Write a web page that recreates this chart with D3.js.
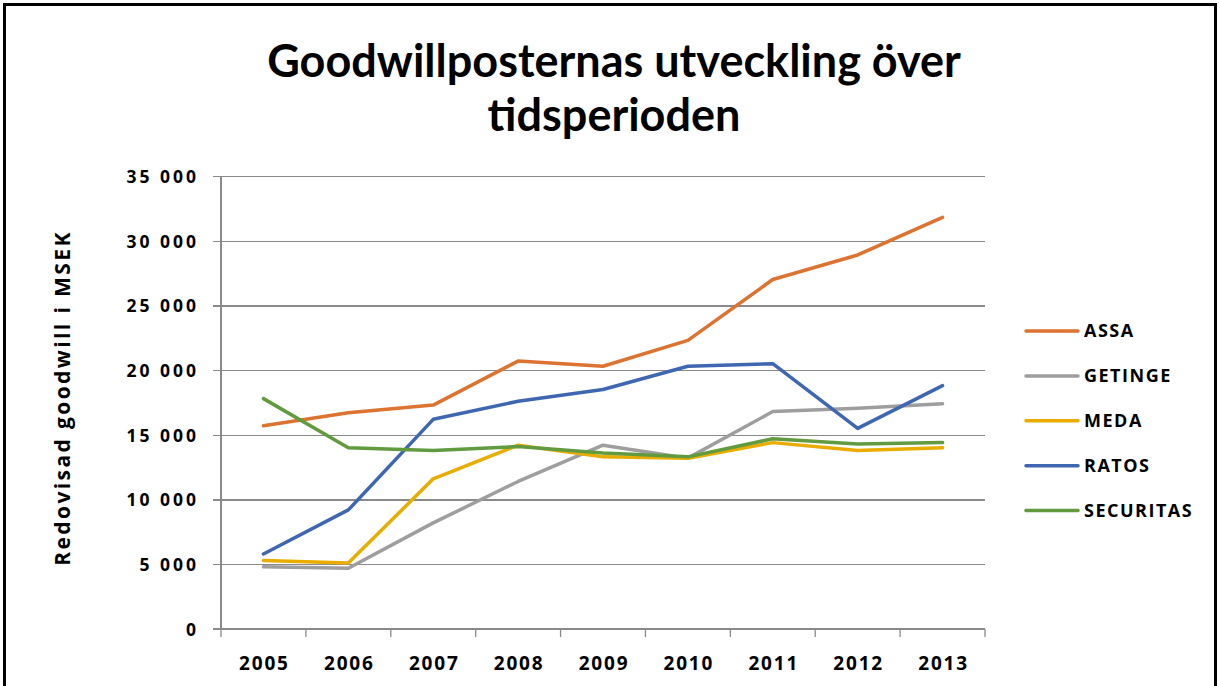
<!doctype html>
<html>
<head>
  <meta charset="utf-8">
  <script src="https://d3js.org/d3.v7.min.js"></script>
  <style>
    body { margin: 0; background: #fff; }
    svg { display: block; }
    .title { font-family: Lato, sans-serif; font-weight: 700; font-size: 45px; fill: #000; }
    .tick-label { font-family: "Open Sans", sans-serif; font-weight: 700; fill: #000; }
    .axis-title { font-family: "Open Sans", sans-serif; font-weight: 700; font-size: 21px; letter-spacing: 2.4px; fill: #000; }
    .legend-label { font-family: "Open Sans", sans-serif; font-weight: 700; font-size: 18px; letter-spacing: 1.5px; fill: #000; }
  </style>
</head>
<body>
<script>
  // data (MSEK)
  var years = ["2005", "2006", "2007", "2008", "2009", "2010", "2011", "2012", "2013"];
  var assa = [15700, 16700, 17300, 20700, 20300, 22300, 27000, 28900, 31800];
  var getinge = [4800, 4700, 8200, 11400, 14200, 13200, 16800, 17050, 17400];
  var meda = [5300, 5100, 11600, 14200, 13300, 13200, 14400, 13800, 14000];
  var ratos = [5800, 9200, 16200, 17600, 18500, 20300, 20500, 15500, 18800];
  var securitas = [17800, 14000, 13800, 14100, 13600, 13300, 14700, 14300, 14400];
  var yTicks = [0, 5000, 10000, 15000, 20000, 25000, 30000, 35000];

  var series = [
    { name: "ASSA", values: assa, color: "#dc7331" },
    { name: "GETINGE", values: getinge, color: "#9e9e9e" },
    { name: "MEDA", values: meda, color: "#e8ad00" },
    { name: "RATOS", values: ratos, color: "#3f67b1" },
    { name: "SECURITAS", values: securitas, color: "#629b3f" }
  ];

  var W = 1219, H = 686;
  var svg = d3.select("body").append("svg")
    .attr("width", W)
    .attr("height", H);

  // outer frame, bottom edge runs off the picture
  svg.append("rect")
    .attr("x", 4.5).attr("y", 4.5)
    .attr("width", 1211).attr("height", 720)
    .attr("fill", "#fff")
    .attr("stroke", "#000")
    .attr("stroke-width", 3);

  var title = svg.append("text")
    .attr("class", "title")
    .attr("text-anchor", "middle");
  title.append("tspan").attr("x", 614).attr("y", 77).text("Goodwillposternas utveckling över");
  title.append("tspan").attr("x", 614).attr("y", 131).text("tidsperioden");

  var plot = { left: 221, right: 985, top: 176, bottom: 629 };

  var x = d3.scaleBand()
    .domain(years)
    .range([plot.left, plot.right]);

  var y = d3.scaleLinear()
    .domain([0, 35000])
    .range([plot.bottom, plot.top]);

  var locale = d3.formatLocale({ decimal: ",", thousands: " ", grouping: [3], currency: ["", ""] });
  var fmt = locale.format(",");

  // gridlines + y axis
  var yAxis = d3.axisLeft(y)
    .tickValues(yTicks)
    .tickSize(-(plot.right - plot.left))
    .tickSizeOuter(0)
    .tickPadding(0)
    .tickFormat("");

  var gy = svg.append("g")
    .attr("transform", "translate(" + plot.left + ",0)")
    .call(yAxis);
  gy.select(".domain").remove();
  gy.selectAll(".tick line")
    .attr("x1", -8)
    .attr("stroke", "#8a8a8a")
    .attr("stroke-width", 1.3)
    .attr("shape-rendering", "crispEdges");

  gy.selectAll(".tick").append("text")
    .attr("class", "tick-label")
    .attr("x", -22)
    .attr("dy", "0.36em")
    .attr("text-anchor", "end")
    .style("font-size", "17.5px")
    .style("letter-spacing", "3px")
    .text(function (d) { return fmt(d); });

  svg.append("line")
    .attr("x1", plot.left).attr("x2", plot.left)
    .attr("y1", plot.top).attr("y2", plot.bottom)
    .attr("stroke", "#8a8a8a")
    .attr("stroke-width", 2);

  // x axis with ticks between categories
  var xBounds = years.map(function (d) { return x(d); }).concat([plot.right]);
  svg.append("line")
    .attr("x1", plot.left - 8).attr("x2", plot.right)
    .attr("y1", plot.bottom).attr("y2", plot.bottom)
    .attr("stroke", "#8a8a8a")
    .attr("stroke-width", 2);
  svg.selectAll(".xtick")
    .data(xBounds)
    .enter().append("line")
    .attr("class", "xtick")
    .attr("x1", function (d) { return d; })
    .attr("x2", function (d) { return d; })
    .attr("y1", plot.bottom)
    .attr("y2", plot.bottom + 8)
    .attr("stroke", "#8a8a8a")
    .attr("stroke-width", 1.3);

  svg.selectAll(".xlabel")
    .data(years)
    .enter().append("text")
    .attr("class", "tick-label")
    .attr("x", function (d) { return x(d) + x.bandwidth() / 2 + 1; })
    .attr("y", 670)
    .attr("text-anchor", "middle")
    .style("font-size", "19px")
    .style("letter-spacing", "1.8px")
    .text(function (d) { return d; });

  svg.append("text")
    .attr("class", "axis-title")
    .attr("text-anchor", "middle")
    .attr("transform", "translate(70,398) rotate(-90)")
    .text("Redovisad goodwill i MSEK");

  // series
  var line = d3.line()
    .x(function (d, i) { return x(years[i]) + x.bandwidth() / 2; })
    .y(function (d) { return y(d); });

  svg.selectAll(".series")
    .data(series)
    .enter().append("path")
    .attr("class", "series")
    .attr("d", function (s) { return line(s.values); })
    .attr("fill", "none")
    .attr("stroke", function (s) { return s.color; })
    .attr("stroke-width", 3.5)
    .attr("stroke-linejoin", "round")
    .attr("stroke-linecap", "round");

  // legend
  var legend = svg.selectAll(".legend")
    .data(series)
    .enter().append("g")
    .attr("class", "legend")
    .attr("transform", function (s, i) { return "translate(1026," + (331 + i * 44.9) + ")"; });
  legend.append("line")
    .attr("x1", 0).attr("x2", 52)
    .attr("stroke", function (s) { return s.color; })
    .attr("stroke-width", 3.5)
    .attr("stroke-linecap", "round");
  legend.append("text")
    .attr("class", "legend-label")
    .attr("x", 58)
    .attr("dy", "0.36em")
    .text(function (s) { return s.name; });
</script>
</body>
</html>
